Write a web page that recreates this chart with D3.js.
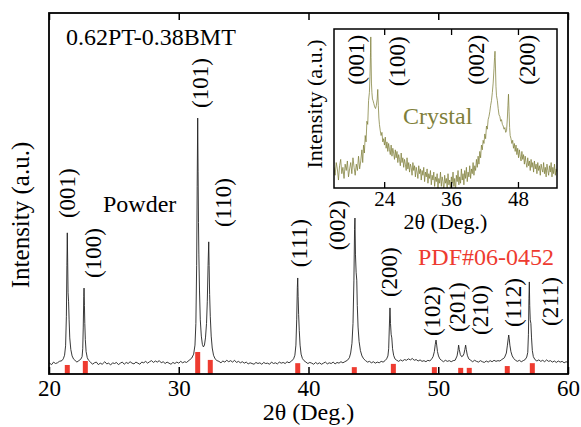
<!DOCTYPE html>
<html>
<head>
<meta charset="utf-8">
<script src="https://cdn.jsdelivr.net/npm/d3@7"></script>
<style>
  body { margin: 0; background: #fff; }
  svg text { font-family: "Liberation Serif", "Times New Roman", Times, serif; }
</style>
</head>
<body>
<div id="chart"></div>
<script>
// powder pattern, [2theta, intensity a.u.]
var powder = [
  [20.0, 31], [20.2, 26], [20.35, 33], [20.5, 29], [20.65, 31], [20.8, 35], [21.0, 37],
  [21.1, 42], [21.2, 52], [21.28, 78], [21.34, 160], [21.38, 300], [21.41, 391], [21.44, 310],
  [21.47, 225], [21.51, 200], [21.55, 150], [21.6, 100], [21.68, 68], [21.78, 50], [21.9, 41],
  [22.0, 38], [22.15, 33], [22.3, 37], [22.45, 41],
  [22.55, 48], [22.6, 70], [22.64, 130], [22.68, 215], [22.70, 238], [22.73, 190], [22.76, 140],
  [22.8, 95], [22.86, 62], [22.95, 45], [23.05, 38],
  [23.2, 33], [23.35, 27], [23.5, 31], [23.65, 33], [23.8, 26], [23.95, 30], [24.1, 27], [24.3, 34],
  [24.45, 28], [24.6, 30], [24.75, 25], [24.9, 31], [25.05, 29], [25.2, 32], [25.35, 26], [25.5, 30],
  [25.65, 33], [25.8, 27], [25.95, 32], [26.1, 29], [26.25, 34], [26.4, 30], [26.55, 28], [26.7, 33],
  [26.85, 30], [27.0, 27], [27.15, 33], [27.3, 31], [27.45, 35], [27.6, 30], [27.75, 34], [27.9, 37],
  [28.05, 32], [28.2, 36], [28.35, 33], [28.5, 37], [28.65, 31], [28.8, 34], [28.95, 29], [29.1, 33],
  [29.25, 30], [29.4, 27], [29.55, 32], [29.7, 29], [29.85, 33], [30.0, 30], [30.15, 35], [30.3, 31],
  [30.45, 34], [30.6, 32], [30.8, 38], [31.0, 44],
  [31.15, 55], [31.25, 80], [31.32, 140], [31.38, 300], [31.42, 520], [31.46, 709], [31.49, 560],
  [31.52, 420], [31.55, 330], [31.6, 230], [31.66, 150], [31.74, 105], [31.82, 82], [31.9, 75],
  [31.98, 80], [32.06, 100], [32.14, 140], [32.2, 200], [32.26, 300], [32.31, 366], [32.34, 300],
  [32.38, 220], [32.43, 160], [32.5, 105], [32.58, 72], [32.68, 52], [32.8, 42], [32.95, 37],
  [33.1, 35], [33.25, 31], [33.4, 36], [33.55, 33], [33.7, 38], [33.85, 34], [34.0, 37], [34.15, 33],
  [34.3, 38], [34.45, 32], [34.6, 35], [34.75, 31], [34.9, 34], [35.05, 30], [35.2, 33], [35.35, 28],
  [35.5, 31], [35.65, 29], [35.8, 27], [35.95, 32], [36.1, 29], [36.25, 31], [36.4, 27], [36.55, 32],
  [36.7, 29], [36.85, 30], [37.0, 27], [37.15, 33], [37.3, 29], [37.45, 31], [37.6, 28], [37.75, 33],
  [37.9, 30], [38.05, 32], [38.2, 29], [38.35, 34], [38.5, 31], [38.7, 36], [38.85, 42],
  [38.95, 52], [39.03, 80], [39.09, 150], [39.14, 240], [39.17, 266], [39.2, 215], [39.24, 165],
  [39.29, 120], [39.35, 80], [39.43, 55], [39.53, 43], [39.65, 37],
  [39.8, 33], [39.95, 29], [40.1, 32], [40.25, 30], [40.4, 27], [40.55, 32], [40.7, 28], [40.85, 31],
  [41.0, 27], [41.15, 30], [41.3, 33], [41.45, 28], [41.6, 31], [41.75, 29], [41.9, 33], [42.05, 28],
  [42.2, 32], [42.35, 30], [42.5, 34], [42.65, 31], [42.8, 34], [43.0, 38], [43.15, 45],
  [43.25, 58], [43.35, 85], [43.43, 140], [43.5, 260], [43.55, 400], [43.58, 432], [43.62, 330],
  [43.67, 282], [43.72, 260], [43.76, 190], [43.82, 130], [43.9, 90], [44.0, 65], [44.12, 50],
  [44.25, 42], [44.4, 37],
  [44.55, 33], [44.7, 35], [44.85, 31], [45.0, 34], [45.15, 30], [45.3, 33], [45.45, 31], [45.6, 35],
  [45.75, 33], [45.9, 37], [46.02, 42],
  [46.12, 50], [46.18, 70], [46.23, 130], [46.28, 183], [46.32, 140], [46.37, 110], [46.42, 100],
  [46.48, 70], [46.56, 52], [46.66, 42], [46.8, 38],
  [46.95, 35], [47.1, 39], [47.25, 36], [47.4, 40], [47.55, 38], [47.7, 42], [47.85, 39], [48.0, 43],
  [48.15, 38], [48.3, 40], [48.45, 36], [48.6, 39], [48.75, 35], [48.9, 37], [49.05, 34], [49.2, 38],
  [49.35, 36], [49.5, 42],
  [49.6, 48], [49.7, 62], [49.77, 82], [49.83, 94], [49.88, 80], [49.94, 62], [50.02, 50],
  [50.12, 42], [50.25, 38],
  [50.4, 34], [50.55, 38], [50.7, 35], [50.85, 37], [51.0, 34], [51.15, 37], [51.3, 38], [51.45, 50],
  [51.52, 65], [51.57, 80], [51.62, 68], [51.7, 54], [51.8, 48], [51.9, 50], [51.98, 56],
  [52.05, 68], [52.11, 80], [52.16, 68], [52.24, 52], [52.35, 42], [52.5, 38],
  [52.65, 34], [52.8, 38], [52.95, 35], [53.1, 33], [53.25, 37], [53.4, 34], [53.55, 32], [53.7, 36],
  [53.85, 33], [54.0, 37], [54.15, 34], [54.3, 38], [54.45, 35], [54.6, 37], [54.75, 36], [54.9, 40],
  [55.1, 45], [55.25, 58],
  [55.33, 80], [55.4, 100], [55.43, 108], [55.47, 98], [55.52, 80], [55.6, 62], [55.7, 50],
  [55.82, 43], [55.95, 38],
  [56.1, 35], [56.25, 38], [56.4, 34], [56.55, 37], [56.7, 40], [56.82, 47],
  [56.9, 60], [56.95, 110], [56.99, 210], [57.02, 255], [57.05, 190], [57.09, 150], [57.14, 140],
  [57.19, 100], [57.25, 65], [57.33, 48], [57.45, 40],
  [57.6, 36], [57.75, 39], [57.9, 35], [58.05, 38], [58.2, 34], [58.35, 39], [58.5, 35], [58.65, 37],
  [58.8, 33], [58.95, 36], [59.1, 32], [59.25, 36], [59.4, 33], [59.55, 35], [59.7, 31], [59.85, 34],
  [60.0, 32]
];

// single crystal scan (inset)
var crystal = [
  [15.0, 13], [15.2, 8], [15.4, 16], [15.6, 12], [15.8, 5], [16.0, 14], [16.2, 18], [16.4, 9],
  [16.6, 13], [16.8, 6], [17.0, 15], [17.2, 11], [17.4, 17], [17.6, 7], [17.8, 12], [18.0, 16],
  [18.2, 9], [18.4, 19], [18.6, 13], [18.8, 8], [19.0, 15], [19.2, 11], [19.4, 20], [19.6, 12],
  [19.8, 17], [20.0, 24], [20.15, 16], [20.3, 27], [20.45, 22], [20.6, 33], [20.75, 29], [20.9, 42],
  [21.05, 40], [21.2, 55], [21.35, 60], [21.45, 70], [21.55, 85], [21.6, 95], [21.65, 82], [21.72, 66],
  [21.8, 60], [21.9, 56], [22.0, 55], [22.15, 53], [22.3, 51], [22.45, 50], [22.6, 52], [22.75, 56],
  [22.85, 62], [22.95, 52], [23.05, 44], [23.15, 40], [23.3, 36], [23.45, 33], [23.6, 35], [23.75, 29],
  [23.9, 31], [24.05, 27], [24.2, 32], [24.35, 25], [24.5, 29], [24.65, 23], [24.8, 28], [24.95, 24],
  [25.1, 21], [25.25, 27], [25.4, 20], [25.55, 25], [25.7, 22], [25.85, 18], [26.0, 24], [26.15, 19],
  [26.3, 23], [26.45, 16], [26.6, 21], [26.75, 18], [26.9, 14], [27.05, 22], [27.2, 16], [27.35, 19],
  [27.5, 13], [27.65, 18], [27.8, 15], [27.95, 11], [28.1, 19], [28.25, 12], [28.4, 16], [28.55, 10],
  [28.7, 15], [28.85, 13], [29.0, 8], [29.15, 16], [29.3, 11], [29.45, 14], [29.6, 7], [29.75, 13],
  [29.9, 10], [30.05, 6], [30.2, 14], [30.35, 9], [30.5, 12], [30.65, 5], [30.8, 11], [30.95, 8],
  [31.1, 13], [31.25, 4], [31.4, 10], [31.55, 7], [31.7, 12], [31.85, 3], [32.0, 9], [32.15, 6],
  [32.3, 11], [32.45, 2], [32.6, 8], [32.75, 5], [32.9, 10], [33.05, 1], [33.2, 7], [33.35, 4],
  [33.5, 9], [33.65, 0], [33.8, 6], [33.95, 3], [34.1, 10], [34.25, 1], [34.4, 7], [34.55, 4],
  [34.7, -2], [34.85, 8], [35.0, 3], [35.15, 6], [35.3, 0], [35.45, 9], [35.6, 2], [35.75, 5],
  [35.9, -1], [36.05, 7], [36.2, 3], [36.35, 10], [36.5, 1], [36.65, 6], [36.8, -2], [36.95, 8],
  [37.1, 4], [37.25, 11], [37.4, 2], [37.55, 7], [37.7, 3], [37.85, 12], [38.0, 5], [38.15, 9],
  [38.3, 2], [38.45, 11], [38.6, 6], [38.75, 13], [38.9, 4], [39.05, 10], [39.2, 7], [39.35, 14],
  [39.5, 6], [39.65, 12], [39.8, 9], [39.95, 16], [40.1, 8], [40.25, 14], [40.4, 11], [40.55, 18],
  [40.7, 13], [40.85, 20], [41.0, 15], [41.15, 23], [41.3, 19], [41.45, 27], [41.6, 24], [41.75, 30],
  [41.9, 28], [42.05, 34], [42.2, 31], [42.35, 39], [42.5, 37], [42.65, 43], [42.8, 45], [42.95, 48],
  [43.1, 52], [43.25, 55], [43.4, 60], [43.55, 66], [43.7, 75], [43.8, 82], [43.88, 86], [43.95, 78],
  [44.05, 64], [44.15, 58], [44.3, 55], [44.45, 50], [44.6, 46], [44.75, 45], [44.9, 42], [45.05, 43],
  [45.2, 40], [45.35, 39], [45.5, 37], [45.65, 38], [45.8, 35], [45.95, 36], [46.1, 44], [46.2, 52],
  [46.3, 59], [46.4, 48], [46.5, 38], [46.6, 33], [46.75, 31], [46.9, 28], [47.05, 30], [47.2, 25],
  [47.35, 28], [47.5, 23], [47.65, 27], [47.8, 21], [47.95, 25], [48.1, 19], [48.25, 24], [48.4, 20],
  [48.55, 17], [48.7, 23], [48.85, 18], [49.0, 21], [49.15, 15], [49.3, 20], [49.45, 16], [49.6, 13],
  [49.75, 19], [49.9, 14], [50.05, 17], [50.2, 11], [50.35, 18], [50.5, 13], [50.65, 16], [50.8, 10],
  [50.95, 17], [51.1, 12], [51.25, 15], [51.4, 9], [51.55, 16], [51.7, 11], [51.85, 14], [52.0, 8],
  [52.15, 15], [52.3, 12], [52.45, 10], [52.6, 16], [52.75, 9], [52.9, 13], [53.05, 7], [53.2, 15],
  [53.35, 11], [53.5, 8], [53.65, 14], [53.8, 10], [53.95, 16], [54.1, 7], [54.25, 13], [54.4, 9],
  [54.55, 15], [54.7, 8], [54.85, 12], [55.0, 10]
];

// PDF#06-0452 reference lines
var pdfPos = [21.41, 22.80, 31.46, 32.43, 39.17, 43.53, 46.54, 49.70, 51.73, 52.39, 55.32, 57.25];
var pdfInt = [25, 36, 61, 39, 30, 19, 28, 19, 17, 17, 22, 30];

// peak labels: text, 2theta, intensity at label foot
var powderHkl = ["(001)", "(100)", "(101)", "(110)", "(111)", "(002)", "(200)", "(102)", "(201)", "(210)", "(112)", "(211)"];
var powderHklX = [21.35, 23.35, 31.64, 33.37, 39.27, 42.20, 46.20, 49.52, 51.45, 53.22, 55.72, 58.61];
var powderHklY = [432, 266, 737, 407, 296, 343, 213, 105, 116, 108, 130, 133];

var crystalHkl = ["(001)", "(100)", "(002)", "(200)"];
var crystalHklX = [19.0, 26.3, 40.5, 49.6];
var crystalHklY = [65, 64, 65, 65];

var xTicks = [20, 30, 40, 50, 60];
var insetTicks = [24, 36, 48];

var width = 581, height = 427;
var red = "#ee3b30";
var olive = "#7f7f3a";

var svg = d3.select("#chart").append("svg")
  .attr("width", width)
  .attr("height", height);

// main plot
var x = d3.scaleLinear().domain([20, 60]).range([49, 568]);
var y = d3.scaleLinear().domain([0, 1000]).range([374, 13]);

svg.append("clipPath").attr("id", "mainclip")
  .append("rect").attr("x", 49).attr("y", 13).attr("width", 519).attr("height", 361);

svg.append("path")
  .datum(powder)
  .attr("clip-path", "url(#mainclip)")
  .attr("fill", "none")
  .attr("stroke", "#222")
  .attr("stroke-width", 0.9)
  .attr("d", d3.line().x(d => x(d[0])).y(d => y(d[1])));

svg.selectAll(".pdf")
  .data(pdfPos)
  .enter().append("rect")
  .attr("class", "pdf")
  .attr("x", d => x(d) - 2.5)
  .attr("width", 5)
  .attr("y", (d, i) => y(pdfInt[i]))
  .attr("height", (d, i) => y(0) - y(pdfInt[i]))
  .attr("fill", red);

var xAxisBottom = svg.append("g")
  .attr("transform", "translate(0,374)")
  .call(d3.axisBottom(x).tickValues(xTicks).tickSize(-7).tickPadding(6));
var xAxisTop = svg.append("g")
  .attr("transform", "translate(0,13)")
  .call(d3.axisTop(x).tickValues(xTicks).tickSize(-7).tickFormat(""));
[xAxisBottom, xAxisTop].forEach(function(g) {
  g.select(".domain").remove();
  g.selectAll(".tick line").attr("stroke", "#000").attr("stroke-width", 1.5);
});
xAxisBottom.selectAll("text").attr("font-size", 23).attr("fill", "#000")
  .style("font-family", "Liberation Serif, serif");

svg.append("rect")
  .attr("x", 49).attr("y", 13).attr("width", 519).attr("height", 361)
  .attr("fill", "none").attr("stroke", "#000").attr("stroke-width", 1.8);

svg.append("text")
  .attr("x", 308.5).attr("y", 420)
  .attr("text-anchor", "middle")
  .attr("font-size", 24)
  .text("2θ (Deg.)");

svg.append("text")
  .attr("transform", "translate(29,215) rotate(-90)")
  .attr("text-anchor", "middle")
  .attr("font-size", 25)
  .text("Intensity (a.u.)");

svg.append("text")
  .attr("x", 66).attr("y", 45)
  .attr("font-size", 24)
  .text("0.62PT-0.38BMT");

svg.append("text")
  .attr("x", 103).attr("y", 212)
  .attr("font-size", 24)
  .text("Powder");

svg.append("text")
  .attr("x", 418).attr("y", 265)
  .attr("font-size", 24)
  .attr("fill", red)
  .text("PDF#06-0452");

svg.selectAll(".hkl")
  .data(powderHkl)
  .enter().append("text")
  .attr("class", "hkl")
  .attr("transform", (d, i) => "translate(" + x(powderHklX[i]) + "," + y(powderHklY[i]) + ") rotate(-90)")
  .attr("dy", "0.35em")
  .attr("font-size", 23)
  .text(d => d);

// inset
var xi = d3.scaleLinear().domain([15, 55]).range([334, 557]);
var yi = d3.scaleLinear().domain([0, 100]).range([188, 29]);

svg.append("clipPath").attr("id", "insetclip")
  .append("rect").attr("x", 334).attr("y", 29).attr("width", 223).attr("height", 159);

svg.append("path")
  .datum(crystal)
  .attr("clip-path", "url(#insetclip)")
  .attr("fill", "none")
  .attr("stroke", olive)
  .attr("stroke-width", 0.75)
  .attr("d", d3.line().x(d => xi(d[0])).y(d => yi(d[1])));

var insetBottom = svg.append("g")
  .attr("transform", "translate(0,188)")
  .call(d3.axisBottom(xi).tickValues(insetTicks).tickSize(-6).tickPadding(3));
var insetTop = svg.append("g")
  .attr("transform", "translate(0,29)")
  .call(d3.axisTop(xi).tickValues(insetTicks).tickSize(-6).tickFormat(""));
[insetBottom, insetTop].forEach(function(g) {
  g.select(".domain").remove();
  g.selectAll(".tick line").attr("stroke", "#000").attr("stroke-width", 1.3);
});
insetBottom.selectAll("text").attr("font-size", 21).attr("fill", "#000")
  .style("font-family", "Liberation Serif, serif");

svg.append("rect")
  .attr("x", 334).attr("y", 29).attr("width", 223).attr("height", 159)
  .attr("fill", "none").attr("stroke", "#000").attr("stroke-width", 1.5);

svg.append("text")
  .attr("x", 445.5).attr("y", 229)
  .attr("text-anchor", "middle")
  .attr("font-size", 22)
  .text("2θ (Deg.)");

svg.append("text")
  .attr("transform", "translate(322,104) rotate(-90)")
  .attr("text-anchor", "middle")
  .attr("font-size", 22)
  .text("Intensity (a.u.)");

svg.append("text")
  .attr("x", 403).attr("y", 124)
  .attr("font-size", 24)
  .attr("fill", olive)
  .text("Crystal");

svg.selectAll(".ihkl")
  .data(crystalHkl)
  .enter().append("text")
  .attr("class", "ihkl")
  .attr("transform", (d, i) => "translate(" + xi(crystalHklX[i]) + "," + yi(crystalHklY[i]) + ") rotate(-90)")
  .attr("dy", "0.35em")
  .attr("font-size", 23)
  .text(d => d);
</script>
</body>
</html>
